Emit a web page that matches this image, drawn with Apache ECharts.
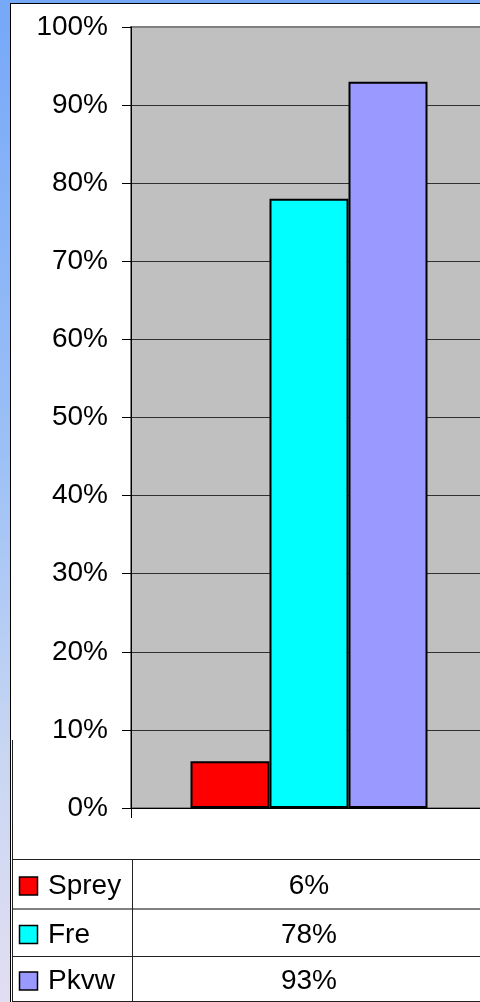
<!DOCTYPE html>
<html>
<head>
<meta charset="utf-8">
<script src="https://cdn.jsdelivr.net/npm/echarts@6/dist/echarts.min.js"></script>
<style>
  html, body {
    margin: 0; padding: 0; width: 480px; height: 1002px; overflow: hidden;
    background: linear-gradient(to bottom, #76A8F8 0%, #9CC0F6 45%, #C8D6F2 75%, #E2DEF2 100%);
  }
  #panel {
    position: absolute; left: 10px; top: 3px; width: 500px; height: 1010px;
    background: #ffffff; border-left: 1px solid #000; border-top: 1px solid #000;
  }
  #chart { position: absolute; left: 0; top: 0; width: 490px; height: 1002px; }
</style>
</head>
<body>
<div id="panel"></div>
<div id="chart"></div>
<script>
// Chart data
const categories = [''];
const seriesNames = ['Sprey', 'Fre', 'Pkvw'];
const spreyValues = [6];
const freValues = [78];
const pkvwValues = [93];
const seriesColors = ['#FF0000', '#00FFFF', '#9999FF'];
const yTickValues = [0, 10, 20, 30, 40, 50, 60, 70, 80, 90, 100];

const FONT = '"Liberation Sans", Arial, sans-serif';
const FONT_SIZE = 28;
const allValues = [spreyValues, freValues, pkvwValues];

const chart = echarts.init(document.getElementById('chart'), null, { renderer: 'canvas' });

// Data table below the plot: one row per series, legend key + value
const rowTops = [859, 908, 956];
const rowBottom = 1001;
const tableGraphics = [];
const hLine = (y, color, w) => ({
  type: 'line', silent: true, z: 100,
  shape: { x1: 12, y1: y, x2: 490, y2: y },
  style: { stroke: color, lineWidth: w }
});
tableGraphics.push(hLine(859.5, '#222', 1));
tableGraphics.push(hLine(909, '#808080', 2));
tableGraphics.push(hLine(956.5, '#222', 1));
tableGraphics.push(hLine(rowBottom + 0.5, '#222', 1));
tableGraphics.push({
  type: 'line', silent: true, z: 100,
  shape: { x1: 132.5, y1: 859, x2: 132.5, y2: 1002 },
  style: { stroke: '#222', lineWidth: 1 }
});
tableGraphics.push({
  type: 'line', silent: true, z: 100,
  shape: { x1: 12.5, y1: 740, x2: 12.5, y2: 1002 },
  style: { stroke: '#222', lineWidth: 1 }
});
seriesNames.forEach((name, i) => {
  const top = rowTops[i];
  const bottom = i < rowTops.length - 1 ? rowTops[i + 1] : rowBottom;
  const cy = (top + bottom) / 2 + 3;
  tableGraphics.push({
    type: 'rect', silent: true, z: 100,
    shape: { x: 19.5, y: cy - 9.5, width: 18, height: 18 },
    style: { fill: seriesColors[i], stroke: '#000', lineWidth: 1.5 }
  });
  tableGraphics.push({
    type: 'text', silent: true, z: 100,
    x: 48, y: cy,
    style: { text: name, font: FONT_SIZE + 'px ' + FONT, fill: '#000', textVerticalAlign: 'middle', textAlign: 'left' }
  });
  tableGraphics.push({
    type: 'text', silent: true, z: 100,
    x: 309, y: cy,
    style: { text: allValues[i][0] + '%', font: FONT_SIZE + 'px ' + FONT, fill: '#000', textVerticalAlign: 'middle', textAlign: 'center' }
  });
});

chart.setOption({
  animation: false,
  backgroundColor: 'transparent',
  grid: {
    left: 131, top: 27, width: 356, height: 781,
    show: true, backgroundColor: '#C0C0C0', borderColor: '#808080', borderWidth: 2,
    containLabel: false
  },
  xAxis: {
    type: 'category',
    data: categories,
    boundaryGap: true,
    axisLine: { show: true, lineStyle: { color: '#000', width: 1 } },
    axisTick: { show: true, length: 10, lineStyle: { color: '#000' } },
    axisLabel: { show: false },
    splitLine: { show: false }
  },
  yAxis: {
    type: 'value',
    min: yTickValues[0],
    max: yTickValues[yTickValues.length - 1],
    interval: yTickValues[1] - yTickValues[0],
    axisLine: { show: true, lineStyle: { color: '#000', width: 1 } },
    axisTick: { show: true, length: 9, lineStyle: { color: '#000' } },
    axisLabel: {
      formatter: '{value}%', fontSize: FONT_SIZE, fontFamily: FONT, color: '#000', margin: 23
    },
    splitLine: { show: true, showMaxLine: false, lineStyle: { color: '#303030', width: 1 } }
  },
  series: seriesNames.map((name, i) => ({
    name: name,
    type: 'bar',
    data: allValues[i],
    barWidth: 79,
    barGap: '0%',
    itemStyle: { color: seriesColors[i], borderColor: '#000', borderWidth: 2 }
  })),
  graphic: tableGraphics
});
</script>
</body>
</html>
